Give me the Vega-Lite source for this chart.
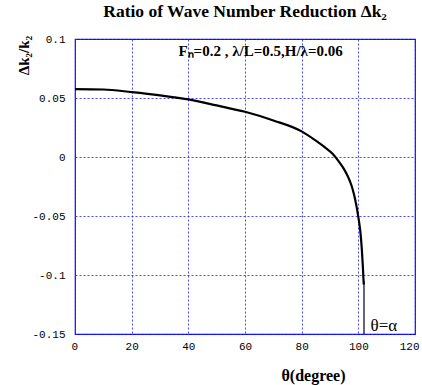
{
  "$schema": "https://vega.github.io/schema/vega-lite/v6.json",
  "autosize": "none",
  "width": 340,
  "height": 295,
  "padding": {"left": 75, "top": 39, "right": 7, "bottom": 51},
  "background": "#ffffff",
  "title": {
    "text": "Ratio of Wave Number Reduction Δk₂",
    "font": "Liberation Serif",
    "fontSize": 17.5,
    "fontWeight": "bold",
    "color": "#000000",
    "anchor": "middle",
    "offset": 13
  },
  "config": {
    "view": {"stroke": "#0000ff", "strokeWidth": 1.2},
    "axis": {
      "domain": false,
      "ticks": false,
      "grid": true,
      "gridColor": "#2a2aff",
      "gridDash": [2, 2],
      "gridWidth": 1,
      "gridOpacity": 0.85,
      "labelFlush": false,
      "labelFont": "Liberation Mono",
      "labelFontSize": 11,
      "labelColor": "#000000",
      "titleFont": "Liberation Serif",
      "titleFontWeight": "bold",
      "titleFontSize": 16,
      "titleColor": "#000000"
    }
  },
  "datasets": {
    "curve": [
      {"theta": 0, "ratio": 0.0575},
      {"theta": 10, "ratio": 0.0572},
      {"theta": 20, "ratio": 0.055},
      {"theta": 30, "ratio": 0.0523},
      {"theta": 40, "ratio": 0.0488},
      {"theta": 50, "ratio": 0.0437},
      {"theta": 60, "ratio": 0.0383},
      {"theta": 70, "ratio": 0.031},
      {"theta": 80, "ratio": 0.0217},
      {"theta": 85, "ratio": 0.0138},
      {"theta": 88, "ratio": 0.0085},
      {"theta": 91, "ratio": 0.0025},
      {"theta": 93, "ratio": -0.0035},
      {"theta": 95, "ratio": -0.0105},
      {"theta": 96.5, "ratio": -0.0175},
      {"theta": 97.5, "ratio": -0.0235},
      {"theta": 98.5, "ratio": -0.032},
      {"theta": 99.3, "ratio": -0.041},
      {"theta": 100, "ratio": -0.051},
      {"theta": 100.7, "ratio": -0.063},
      {"theta": 101.2, "ratio": -0.077},
      {"theta": 101.6, "ratio": -0.093},
      {"theta": 101.9, "ratio": -0.108}
    ],
    "vline": [
      {"theta": 102, "ratio": -0.15, "ratio2": -0.105}
    ],
    "labels": [
      {"theta": 36.5, "ratio": 0.0895, "txt": "Fₙ=0.2 , λ/L=0.5,H/λ=0.06", "kind": "a"},
      {"theta": 104.3, "ratio": -0.143, "txt": "θ=α", "kind": "b"}
    ]
  },
  "layer": [
    {
      "data": {"name": "curve"},
      "mark": {"type": "line", "color": "#000000", "strokeWidth": 2.2, "interpolate": "monotone"},
      "encoding": {
        "x": {
          "field": "theta", "type": "quantitative",
          "scale": {"domain": [0, 120], "nice": false, "zero": false},
          "axis": {
            "values": [0, 20, 40, 60, 80, 100, 120],
            "title": "θ(degree)",
            "labelPadding": 6,
            "labelFlush": true,
            "labelFlushOffset": 4,
            "titleX": 238,
            "titleY": 41,
            "titleAlign": "center",
            "titleBaseline": "middle"
          }
        },
        "y": {
          "field": "ratio", "type": "quantitative",
          "scale": {"domain": [-0.15, 0.1], "nice": false, "zero": false},
          "axis": {
            "values": [-0.15, -0.1, -0.05, 0, 0.05, 0.1],
            "labelExpr": "'' + datum.value",
            "labelPadding": 10,
            "title": "Δk₂/k₂",
            "titleFontSize": 15,
            "titleAngle": -90,
            "titleX": -52,
            "titleY": 16,
            "titleAlign": "center",
            "titleBaseline": "middle"
          }
        }
      }
    },
    {
      "data": {"name": "vline"},
      "mark": {"type": "rule", "color": "#000000", "strokeWidth": 1.2},
      "encoding": {
        "x": {"field": "theta", "type": "quantitative"},
        "y": {"field": "ratio", "type": "quantitative"},
        "y2": {"field": "ratio2"}
      }
    },
    {
      "data": {"name": "labels"},
      "transform": [{"filter": "datum.kind == 'a'"}],
      "mark": {"type": "text", "align": "left", "baseline": "middle", "font": "Liberation Serif", "fontSize": 15, "fontWeight": "bold", "color": "#000000"},
      "encoding": {
        "x": {"field": "theta", "type": "quantitative"},
        "y": {"field": "ratio", "type": "quantitative"},
        "text": {"field": "txt"}
      }
    },
    {
      "data": {"name": "labels"},
      "transform": [{"filter": "datum.kind == 'b'"}],
      "mark": {"type": "text", "align": "left", "baseline": "middle", "font": "Liberation Serif", "fontSize": 17, "color": "#000000"},
      "encoding": {
        "x": {"field": "theta", "type": "quantitative"},
        "y": {"field": "ratio", "type": "quantitative"},
        "text": {"field": "txt"}
      }
    }
  ]
}
